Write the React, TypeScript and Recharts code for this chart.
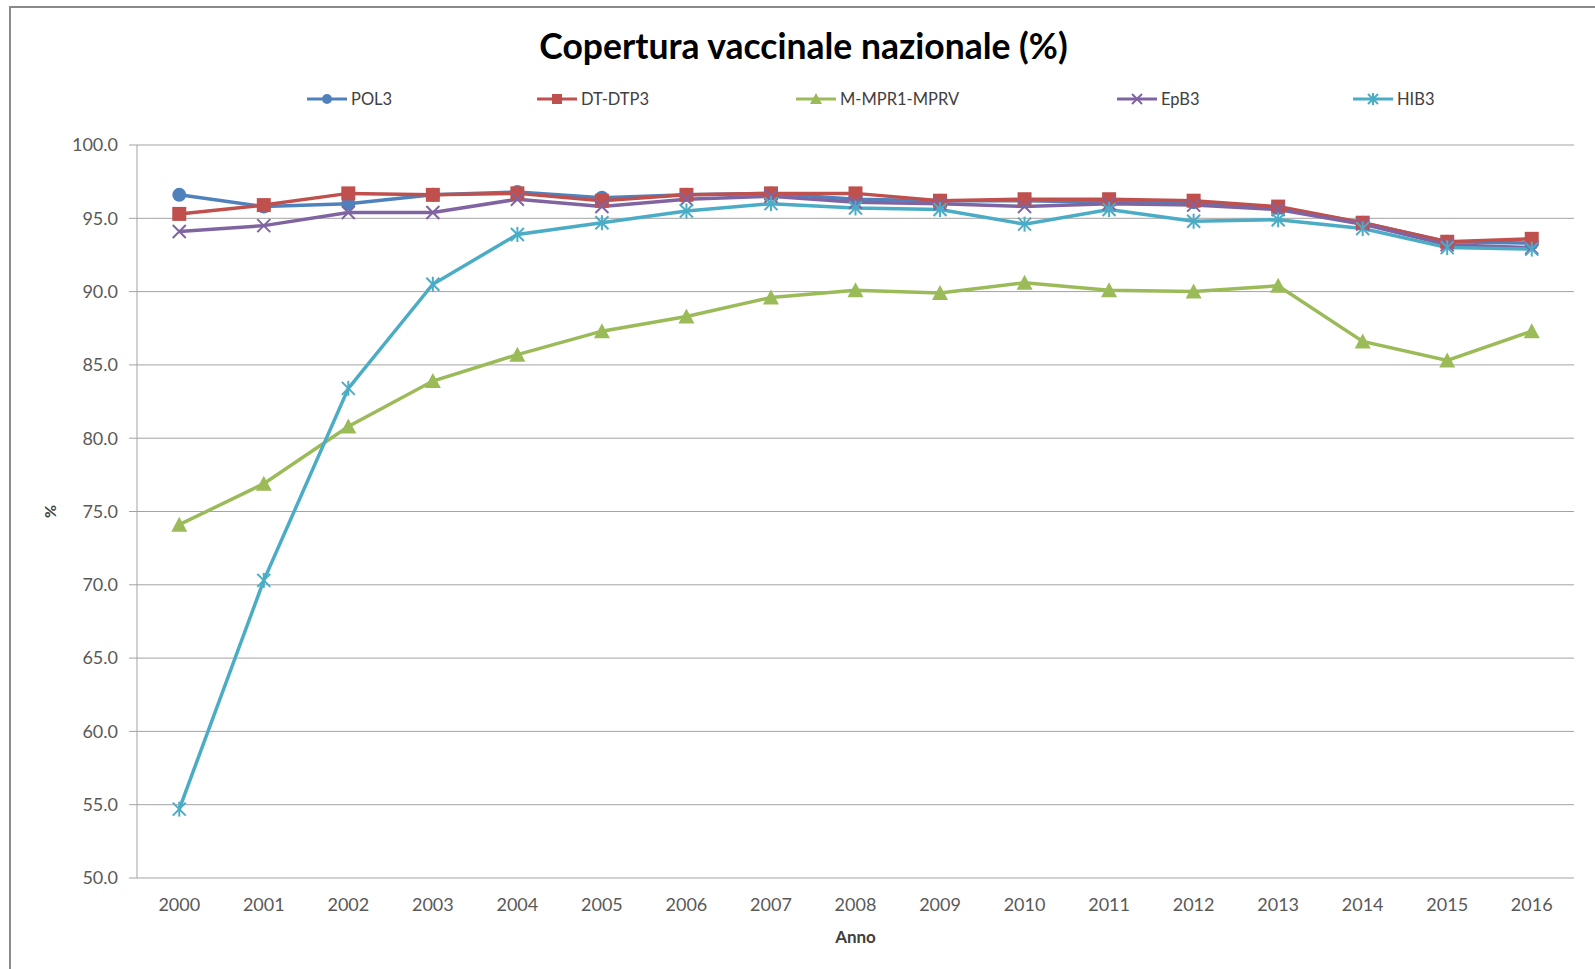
import { LineChart, Line, XAxis, YAxis, CartesianGrid, Label } from "recharts";

// anni e coperture (%)
const YEARS = [2000, 2001, 2002, 2003, 2004, 2005, 2006, 2007, 2008, 2009, 2010, 2011, 2012, 2013, 2014, 2015, 2016];
const POL3 = [96.6, 95.8, 96.0, 96.6, 96.8, 96.4, 96.6, 96.7, 96.3, 96.2, 96.2, 96.1, 96.1, 95.7, 94.7, 93.4, 93.3];
const DTP3 = [95.3, 95.9, 96.7, 96.6, 96.7, 96.2, 96.6, 96.7, 96.7, 96.2, 96.3, 96.3, 96.2, 95.8, 94.7, 93.4, 93.6];
const MPR1 = [74.1, 76.9, 80.8, 83.9, 85.7, 87.3, 88.3, 89.6, 90.1, 89.9, 90.6, 90.1, 90.0, 90.4, 86.6, 85.3, 87.3];
const EPB3 = [94.1, 94.5, 95.4, 95.4, 96.3, 95.8, 96.3, 96.5, 96.1, 96.0, 95.8, 96.0, 95.9, 95.6, 94.6, 93.2, 93.0];
const HIB3 = [54.7, 70.3, 83.4, 90.5, 93.9, 94.7, 95.5, 96.0, 95.7, 95.6, 94.6, 95.6, 94.8, 94.9, 94.3, 93.0, 92.9];
const Y_TICKS = [50, 55, 60, 65, 70, 75, 80, 85, 90, 95, 100];

const SERIES = [
  { key: "POL3", color: "#4F81BD", marker: "circle", values: POL3, legendX: 307 },
  { key: "DT-DTP3", color: "#C0504D", marker: "square", values: DTP3, legendX: 537 },
  { key: "M-MPR1-MPRV", color: "#9BBB59", marker: "triangle", values: MPR1, legendX: 796 },
  { key: "EpB3", color: "#8064A2", marker: "x", values: EPB3, legendX: 1117 },
  { key: "HIB3", color: "#4BACC6", marker: "star", values: HIB3, legendX: 1353 },
];

const data = YEARS.map((year, i) => {
  const row: any = { year };
  SERIES.forEach((s) => (row[s.key] = s.values[i]));
  return row;
});

// confini tra le categorie (tacche dell'asse X stile Excel)
const BOUNDS = [...YEARS.map((y) => y - 0.5), YEARS[YEARS.length - 1] + 0.5];

const FONT = "Lato, 'Open Sans', sans-serif";
const GRID = "#a3a3a3";

function Marker({ type, cx, cy, color, s }: any) {
  const h = s / 2;
  switch (type) {
    case "circle":
      return <circle cx={cx} cy={cy} r={h} fill={color} />;
    case "square":
      return <rect x={cx - h} y={cy - h} width={s} height={s} fill={color} />;
    case "triangle":
      return (
        <polygon
          points={`${cx},${cy - h - 1} ${cx + h + 1},${cy + h} ${cx - h - 1},${cy + h}`}
          fill={color}
        />
      );
    case "x":
      return (
        <g stroke={color} strokeWidth={2}>
          <line x1={cx - h} y1={cy - h} x2={cx + h} y2={cy + h} />
          <line x1={cx - h} y1={cy + h} x2={cx + h} y2={cy - h} />
        </g>
      );
    default:
      return (
        <g stroke={color} strokeWidth={2}>
          <line x1={cx - h} y1={cy - h} x2={cx + h} y2={cy + h} />
          <line x1={cx - h} y1={cy + h} x2={cx + h} y2={cy - h} />
          <line x1={cx} y1={cy - h - 1} x2={cx} y2={cy + h + 1} />
        </g>
      );
  }
}

function LegendRow() {
  return (
    <>
      {SERIES.map((s) => (
        <div
          key={s.key}
          style={{
            position: "absolute",
            left: s.legendX,
            top: 88,
            height: 22,
            display: "flex",
            alignItems: "center",
            fontSize: 16.5,
            color: "#404040",
            whiteSpace: "nowrap",
          }}
        >
          <svg width={40} height={22}>
            <line x1={0} y1={11} x2={40} y2={11} stroke={s.color} strokeWidth={3} />
            <Marker type={s.marker} cx={20} cy={11} color={s.color} s={10} />
          </svg>
          <span style={{ marginLeft: 4 }}>{s.key}</span>
        </div>
      ))}
    </>
  );
}

export default function App() {
  return (
    <div
      style={{
        position: "absolute",
        left: 0,
        top: 0,
        width: 1595,
        height: 969,
        background: "#fff",
        fontFamily: FONT,
        overflow: "hidden",
      }}
    >
      {/* bordo dell'area grafico (solo sinistra e sopra visibili) */}
      <div
        style={{
          position: "absolute",
          left: 9,
          top: 6,
          width: 1700,
          height: 1100,
          borderLeft: "2px solid #8a8a8a",
          borderTop: "2px solid #8a8a8a",
        }}
      />
      <div
        style={{
          position: "absolute",
          left: 0,
          width: 1595,
          top: 24,
          textAlign: "center",
          fontSize: 35.5,
          fontWeight: 700,
          color: "#000",
          paddingLeft: 12,
          boxSizing: "border-box",
        }}
      >
        Copertura vaccinale nazionale (%)
      </div>
      <LegendRow />
      <div style={{ position: "absolute", left: 0, top: 0 }}>
        <LineChart width={1595} height={969} data={data} margin={{ top: 145, right: 21, left: 0, bottom: 0 }}>
          <CartesianGrid vertical={false} stroke={GRID} strokeWidth={1} />
          <XAxis
            xAxisId="bounds"
            type="number"
            domain={[BOUNDS[0], BOUNDS[BOUNDS.length - 1]]}
            ticks={BOUNDS}
            interval={0}
            height={0}
            tick={false}
            tickSize={7}
            allowDataOverflow
            stroke={GRID}
          />
          <XAxis
            xAxisId="yr"
            dataKey="year"
            type="number"
            domain={[BOUNDS[0], BOUNDS[BOUNDS.length - 1]]}
            ticks={YEARS}
            interval={0}
            height={91}
            axisLine={false}
            tickLine={false}
            tickSize={8}
            tickMargin={12}
            allowDataOverflow
            tick={{ fontSize: 18, fill: "#595959", fontFamily: FONT }}
          >
            <Label
              content={({ viewBox }: any) => (
                <text
                  x={viewBox.x + viewBox.width / 2}
                  y={viewBox.y + 65}
                  textAnchor="middle"
                  fontSize={17}
                  fontWeight={700}
                  fill="#404040"
                  fontFamily={FONT}
                >
                  Anno
                </text>
              )}
            />
          </XAxis>
          <YAxis
            domain={[50, 100]}
            ticks={Y_TICKS}
            interval={0}
            width={137}
            tickSize={8}
            tickMargin={11}
            stroke={GRID}
            tickFormatter={(v: number) => v.toFixed(1)}
            tick={{ fontSize: 18, fill: "#595959", fontFamily: FONT }}
          >
            <Label
              content={({ viewBox }: any) => {
                const x = 49;
                const y = viewBox.y + viewBox.height / 2;
                return (
                  <text
                    x={x}
                    y={y}
                    textAnchor="middle"
                    dominantBaseline="central"
                    transform={`rotate(-90 ${x} ${y})`}
                    fontSize={16}
                    fontWeight={700}
                    fill="#404040"
                    fontFamily={FONT}
                  >
                    %
                  </text>
                );
              }}
            />
          </YAxis>
          {SERIES.map((s) => (
            <Line
              key={s.key}
              xAxisId="yr"
              dataKey={s.key}
              name={s.key}
              stroke={s.color}
              strokeWidth={3.5}
              isAnimationActive={false}
              dot={(p: any) => (
                <Marker key={`${s.key}-${p.index}`} type={s.marker} cx={p.cx} cy={p.cy} color={s.color} s={s.marker === "x" || s.marker === "star" ? 13 : 14} />
              )}
              activeDot={false}
            />
          ))}
        </LineChart>
      </div>
    </div>
  );
}
